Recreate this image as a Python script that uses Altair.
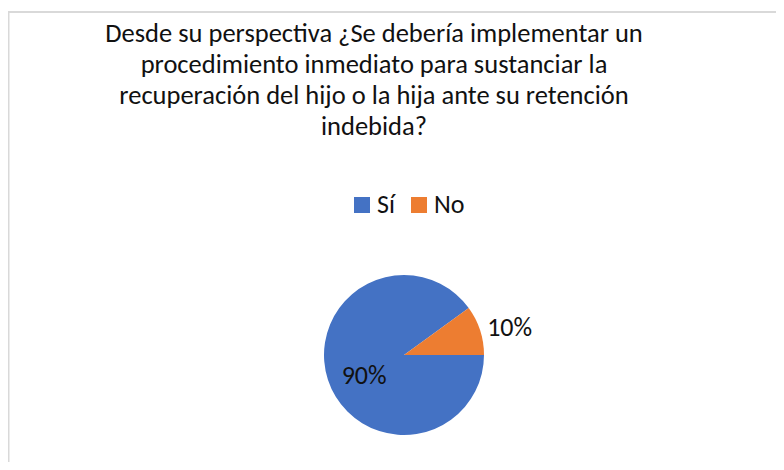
import math
import altair as alt
import pandas as pd

title_lines = [
    "Desde su perspectiva ¿Se debería implementar un",
    "procedimiento inmediato para sustanciar la",
    "recuperación del hijo o la hija ante su retención",
    "indebida?",
]
categories = ["Sí", "No"]
values = [90, 10]
labels = ["90%", "10%"]
label_radius = [44, 109]
colors = ["#4472C4", "#ED7D31"]

FONT = "Carlito, Lato, Open Sans, sans-serif"
FS = 26

df = pd.DataFrame({
    "cat": categories,
    "value": values,
    "label": labels,
    "r": label_radius,
    "idx": list(range(len(categories))),
})

W, H = 768, 454
CX, CY = 396, 347

theta_scale = alt.Scale(domain=[0, sum(values)],
                        range=[math.pi / 2, math.pi / 2 + 2 * math.pi])

pie = alt.Chart(df).mark_arc(outerRadius=80).encode(
    theta=alt.Theta("value:Q", stack=True, scale=theta_scale),
    order=alt.Order("idx:Q"),
    x=alt.value(CX), y=alt.value(CY),
    color=alt.Color(
        "cat:N",
        scale=alt.Scale(domain=categories, range=colors),
        sort=categories,
        legend=alt.Legend(
            orient="none", legendX=341, legendY=184, direction="horizontal",
            title=None, symbolType="square", symbolSize=256, symbolStrokeWidth=0,
            labelFontSize=FS, labelFont=FONT, labelColor="#111111",
            labelOffset=2, columnPadding=11, padding=0, symbolOffset=0,
        ),
    ),
)

pct = alt.Chart(df).transform_window(
    cum="sum(value)", sort=[alt.SortField("idx")]
).transform_calculate(
    mid="datum.cum - datum.value / 2"
).mark_text(fontSize=FS, font=FONT, color="#111111", dy=7, dx=2).encode(
    theta=alt.Theta("mid:Q", stack=None, scale=theta_scale),
    x=alt.value(CX), y=alt.value(CY),
    radius=alt.Radius("r:Q", scale=None),
    text="label:N",
)

title = alt.Chart(pd.DataFrame({"t": [0]})).mark_text(
    fontSize=26.5, font=FONT, color="#111111", align="center",
    baseline="alphabetic", lineHeight=31,
).encode(x=alt.value(366), y=alt.value(34), text=alt.value(title_lines))

border = alt.Chart(pd.DataFrame({"t": [0]})).mark_rect(
    fill=None, stroke="#D9D9D9", strokeWidth=2,
).encode(x=alt.value(0.5), y=alt.value(4), x2=alt.value(W + 20), y2=alt.value(H + 20))

chart = alt.layer(border, title, pie, pct).properties(
    width=W, height=H, padding=0,
    autosize=alt.AutoSizeParams(type="none"),
).configure_view(stroke=None)

chart.save("out.html", embed_options={"renderer": "svg", "actions": False})
